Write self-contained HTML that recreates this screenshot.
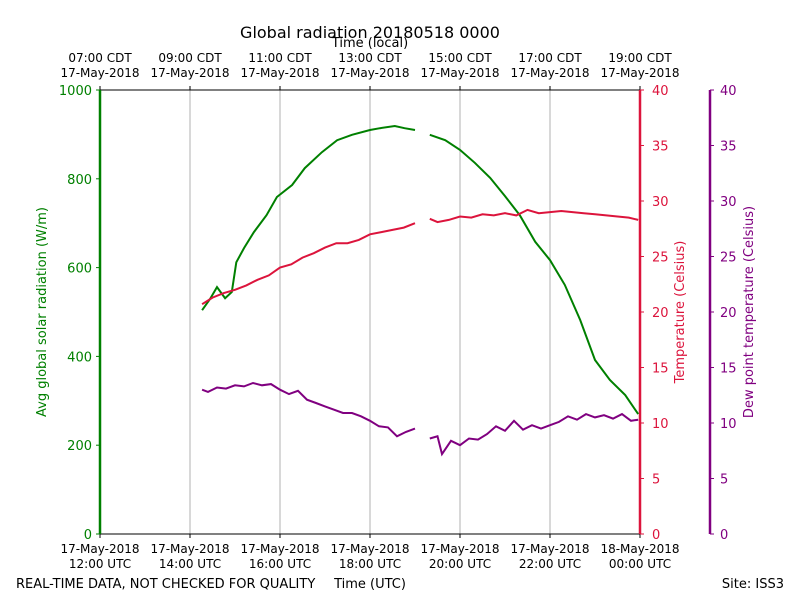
<!DOCTYPE html>
<html><head><meta charset="utf-8"><style>
body{margin:0;background:#fff}
svg{font-family:"DejaVu Sans","Liberation Sans",sans-serif}
</style></head><body>
<svg id="chart" width="800" height="600">
<rect width="800" height="600" fill="#fff"/>
<text x="370" y="38" font-size="16" text-anchor="middle">Global radiation 20180518 0000</text>
<text x="370" y="47" font-size="13" text-anchor="middle">Time (local)</text>
<text x="370" y="588" font-size="13" text-anchor="middle">Time (UTC)</text>
<text x="16" y="588" font-size="13">REAL-TIME DATA, NOT CHECKED FOR QUALITY</text>
<text x="784" y="588" font-size="13" text-anchor="end">Site: ISS3</text>
<text transform="translate(46,312) rotate(-90)" font-size="13" fill="green" text-anchor="middle">Avg global solar radiation (W/m)</text>
<text transform="translate(684,312) rotate(-90)" font-size="13" fill="crimson" text-anchor="middle">Temperature (Celsius)</text>
<text transform="translate(753,312) rotate(-90)" font-size="13" fill="purple" text-anchor="middle">Dew point temperature (Celsius)</text>
<g id="g"></g>
</svg>
<script>
const xTickHours=[12,14,16,18,20,22,24];
const utcLabels=["12:00 UTC","14:00 UTC","16:00 UTC","18:00 UTC","20:00 UTC","22:00 UTC","00:00 UTC"];
const utcDates=["17-May-2018","17-May-2018","17-May-2018","17-May-2018","17-May-2018","17-May-2018","18-May-2018"];
const localLabels=["07:00 CDT","09:00 CDT","11:00 CDT","13:00 CDT","15:00 CDT","17:00 CDT","19:00 CDT"];
const radTicks=[0,200,400,600,800,1000];
const tempTicks=[0,5,10,15,20,25,30,35,40];
const solarHours=[14.27,14.45,14.6,14.78,14.93,15.03,15.2,15.42,15.7,15.93,16.27,16.55,16.93,17.27,17.6,18.0,18.22,18.55,18.77,19.0,null,19.33,19.67,20.0,20.33,20.67,21.0,21.33,21.67,22.0,22.33,22.67,23.0,23.33,23.67,23.96];
const solarVals=[504,530,556,531,545,612,644,680,718,759,786,824,860,887,899,910,914,919,914,910,null,899,887,865,836,802,761,718,658,617,561,482,392,347,313,270];
const tempHours=[14.27,14.5,14.75,15.0,15.25,15.5,15.75,16.0,16.25,16.5,16.75,17.0,17.25,17.5,17.75,18.0,18.25,18.5,18.75,19.0,null,19.33,19.5,19.75,20.0,20.25,20.5,20.75,21.0,21.25,21.5,21.75,22.0,22.25,22.5,22.75,23.0,23.25,23.5,23.75,23.96];
const tempVals=[20.7,21.3,21.7,22.0,22.4,22.9,23.3,24.0,24.3,24.9,25.3,25.8,26.2,26.2,26.5,27.0,27.2,27.4,27.6,28.0,null,28.4,28.1,28.3,28.6,28.5,28.8,28.7,28.9,28.7,29.2,28.9,29.0,29.1,29.0,28.9,28.8,28.7,28.6,28.5,28.3];
const dewHours=[14.27,14.4,14.6,14.8,15.0,15.2,15.4,15.6,15.8,16.0,16.2,16.4,16.6,16.8,17.0,17.2,17.4,17.6,17.8,18.0,18.2,18.4,18.6,18.8,19.0,null,19.33,19.5,19.6,19.8,20.0,20.2,20.4,20.6,20.8,21.0,21.2,21.4,21.6,21.8,22.0,22.2,22.4,22.6,22.8,23.0,23.2,23.4,23.6,23.8,23.96];
const dewVals=[13.0,12.8,13.2,13.1,13.4,13.3,13.6,13.4,13.5,13.0,12.6,12.9,12.1,11.8,11.5,11.2,10.9,10.9,10.6,10.2,9.7,9.6,8.8,9.2,9.5,null,8.6,8.8,7.2,8.4,8.0,8.6,8.5,9.0,9.7,9.3,10.2,9.4,9.8,9.5,9.8,10.1,10.6,10.3,10.8,10.5,10.7,10.4,10.8,10.2,10.3];
const L=100,R=640,T=90,B=534;
const X=h=>L+(h-12)*(R-L)/12;
const YR=v=>B-v*(B-T)/1000;
const YT=v=>B-v*(B-T)/40;
const NS="http://www.w3.org/2000/svg";
const g=document.getElementById('g');
function mk(tag,a,txt){const e=document.createElementNS(NS,tag);for(const k in a)e.setAttribute(k,a[k]);if(txt!==undefined)e.textContent=txt;g.appendChild(e);return e;}
// grid and x ticks
xTickHours.forEach((h,i)=>{
 const x=X(h);
 if(i>0&&i<xTickHours.length-1){const gl=mk('line',{x1:x,x2:x,y1:T,y2:B,stroke:'#b0b0b0','stroke-width':1});
 
 }
 mk('line',{x1:x,x2:x,y1:B,y2:B+4,stroke:'#000'});
 mk('line',{x1:x,x2:x,y1:T,y2:T-4,stroke:'#000'});
 const a=mk('text',{x:x,y:B+19,'font-size':12,'text-anchor':'middle'},utcDates[i]);
 
 
 mk('text',{x:x,y:B+34,'font-size':12,'text-anchor':'middle'},utcLabels[i]);
 const b=mk('text',{x:x,y:T-28,'font-size':12,'text-anchor':'middle'},localLabels[i]);
 
 
 mk('text',{x:x,y:T-13,'font-size':12,'text-anchor':'middle'},'17-May-2018');
});
mk('line',{x1:L,x2:R,y1:T,y2:T,stroke:'#000'});
mk('line',{x1:L,x2:R,y1:B,y2:B,stroke:'#000'});
radTicks.forEach(v=>{const y=YR(v);mk('line',{x1:L-4,x2:L,y1:y,y2:y,stroke:'green'});
 const t=mk('text',{x:L-8,y:y+5,'font-size':13,fill:'green','text-anchor':'end'},v);
 
 });
tempTicks.forEach(v=>{const y=YT(v);
 mk('line',{x1:R,x2:R+4,y1:y,y2:y,stroke:'crimson'});
 const t=mk('text',{x:R+12,y:y+5,'font-size':13,fill:'crimson'},v);
 
 
 mk('line',{x1:710,x2:714,y1:y,y2:y,stroke:'purple'});
 const d=mk('text',{x:720,y:y+5,'font-size':13,fill:'purple'},v);
 
 });
const s1=mk('line',{x1:L,x2:L,y1:T,y2:B,stroke:'green','stroke-width':2.5});


const s2=mk('line',{x1:R,x2:R,y1:T,y2:B,stroke:'crimson','stroke-width':2.5});


const s3=mk('line',{x1:710,x2:710,y1:T,y2:B,stroke:'purple','stroke-width':2.5});


function path(hs,vs,yf){let d='',pen=false;hs.forEach((h,i)=>{if(h===null||vs[i]===null){pen=false;return;}d+=(pen?'L':'M')+X(h).toFixed(1)+','+yf(vs[i]).toFixed(1);pen=true;});return d;}
const p1=mk('path',{d:path(solarHours,solarVals,YR),fill:'none',stroke:'green','stroke-width':2});


const p2=mk('path',{d:path(tempHours,tempVals,YT),fill:'none',stroke:'crimson','stroke-width':2});


const p3=mk('path',{d:path(dewHours,dewVals,YT),fill:'none',stroke:'purple','stroke-width':2});


</script>
</body></html>
